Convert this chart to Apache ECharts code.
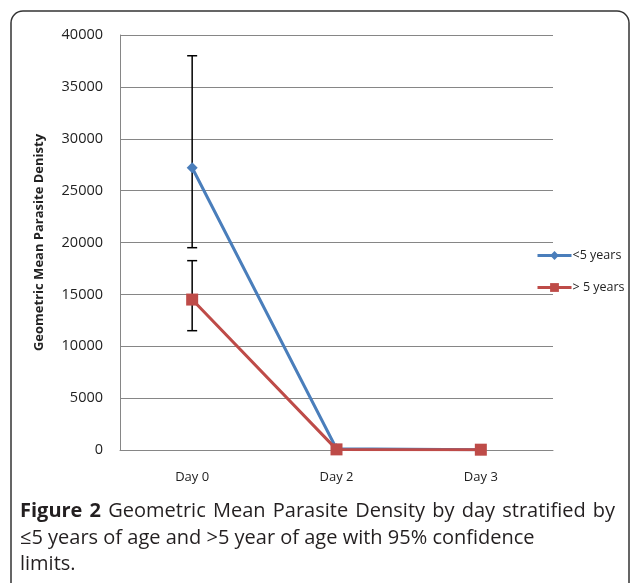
<!DOCTYPE html>
<html><head><meta charset="utf-8">
<script src="https://cdn.jsdelivr.net/npm/echarts@6/dist/echarts.min.js"></script>
<style>html,body{margin:0;padding:0;background:#fff}#c{width:630px;height:583px}</style>
</head><body><div id="c"></div>
<script>
const categories = ['Day 0', 'Day 2', 'Day 3'];
const under5 = [27200, 120, 30];
const over5 = [14500, 60, 30];
const under5Low = [19500, null, null];
const under5High = [38000, null, null];
const over5Low = [11500, null, null];
const over5High = [18250, null, null];
const yTicks = [0, 5000, 10000, 15000, 20000, 25000, 30000, 35000, 40000];
const captionBold = ['Figure', '2'];
const captionLine1 = ['Geometric', 'Mean', 'Parasite', 'Density', 'by', 'day', 'stratified', 'by'];
const captionLine2 = '≤5 years of age and >5 year of age with 95% confidence';
const captionLine3 = 'limits.';

function errData(lo, hi) {
  const out = [];
  for (let i = 0; i < categories.length; i++) {
    if (lo[i] != null && hi[i] != null) out.push([i, lo[i], hi[i]]);
  }
  return out;
}
function errRender(params, api) {
  const x = api.value(0);
  const lo = api.coord([x, api.value(1)]);
  const hi = api.coord([x, api.value(2)]);
  const w = 5;
  const st = { stroke: '#000', lineWidth: 1.5 };
  return { type: 'group', children: [
    { type: 'line', shape: { x1: lo[0], y1: lo[1], x2: hi[0], y2: hi[1] }, style: st },
    { type: 'line', shape: { x1: lo[0] - w, y1: lo[1], x2: lo[0] + w, y2: lo[1] }, style: st },
    { type: 'line', shape: { x1: hi[0] - w, y1: hi[1], x2: hi[0] + w, y2: hi[1] }, style: st }
  ]};
}

const font = 'Open Sans';
const capFill = '#231f20';
const line1Text = captionBold.map(w => '{b|' + w + '}').join('{s| }') + '{s| }' +
  captionLine1.map(w => '{n|' + w + '}').join('{s| }');

const chart = echarts.init(document.getElementById('c'), null, { renderer: 'canvas' });
chart.setOption({
  animation: false,
  textStyle: { fontFamily: font },
  grid: { left: 120, top: 35, right: 77, bottom: 133 },
  legend: {
    orient: 'vertical', left: 531, top: 244, itemWidth: 34, itemHeight: 11, itemGap: 19,
    lineStyle: { width: 3 },
    textStyle: { fontSize: 12.5, color: '#222', fontFamily: font, padding: [0, 0, 0, -4] },
    data: ['<5 years', '> 5 years']
  },
  xAxis: {
    type: 'category', data: categories, boundaryGap: true,
    axisLine: { lineStyle: { color: '#868686', width: 1 } },
    axisTick: { show: false },
    axisLabel: { fontSize: 13, color: '#222', margin: 21 }
  },
  yAxis: {
    type: 'value', min: 0, max: 40000, interval: 5000,
    name: 'Geometric Mean Parasite Denisty', nameLocation: 'middle', nameGap: 74,
    nameTextStyle: { fontSize: 13, fontWeight: 'bold', color: '#222' },
    axisLine: { show: true, lineStyle: { color: '#868686', width: 1 } },
    axisTick: { show: false },
    splitLine: { lineStyle: { color: '#868686', width: 1 } },
    axisLabel: { fontSize: 14.5, color: '#222', margin: 17,
      formatter: v => yTicks.includes(v) ? String(v) : '' }
  },
  series: [
    { name: '<5 years', type: 'line', data: under5, symbol: 'diamond', symbolSize: 11,
      lineStyle: { color: '#4a7ebb', width: 3 }, itemStyle: { color: '#4a7ebb' }, z: 3 },
    { name: '> 5 years', type: 'line', data: over5, symbol: 'rect', symbolSize: 12,
      lineStyle: { color: '#be4b48', width: 3 }, itemStyle: { color: '#be4b48' }, z: 4 },
    { type: 'custom', renderItem: errRender, data: errData(under5Low, under5High), z: 2, silent: true },
    { type: 'custom', renderItem: errRender, data: errData(over5Low, over5High), z: 2, silent: true }
  ],
  graphic: [
    { type: 'rect', shape: { x: 11, y: 11, width: 618, height: 600, r: 12 }, style: { fill: 'none', stroke: '#333', lineWidth: 1.5 }, silent: true },
    { type: 'text', left: 20, top: 501, style: {
      rich: {
        b: { fontWeight: 'bold', fontSize: 20, fontFamily: font, fill: capFill },
        n: { fontSize: 20, fontFamily: font, fill: capFill },
        s: { fontSize: 20, fontFamily: font, width: 7.2 }
      },
      text: line1Text } },
    { type: 'text', left: 20, top: 528, style: { text: captionLine2, fontSize: 20, fontFamily: font, fill: capFill } },
    { type: 'text', left: 20, top: 554, style: { text: captionLine3, fontSize: 20, fontFamily: font, fill: capFill } }
  ]
});
</script></body></html>
